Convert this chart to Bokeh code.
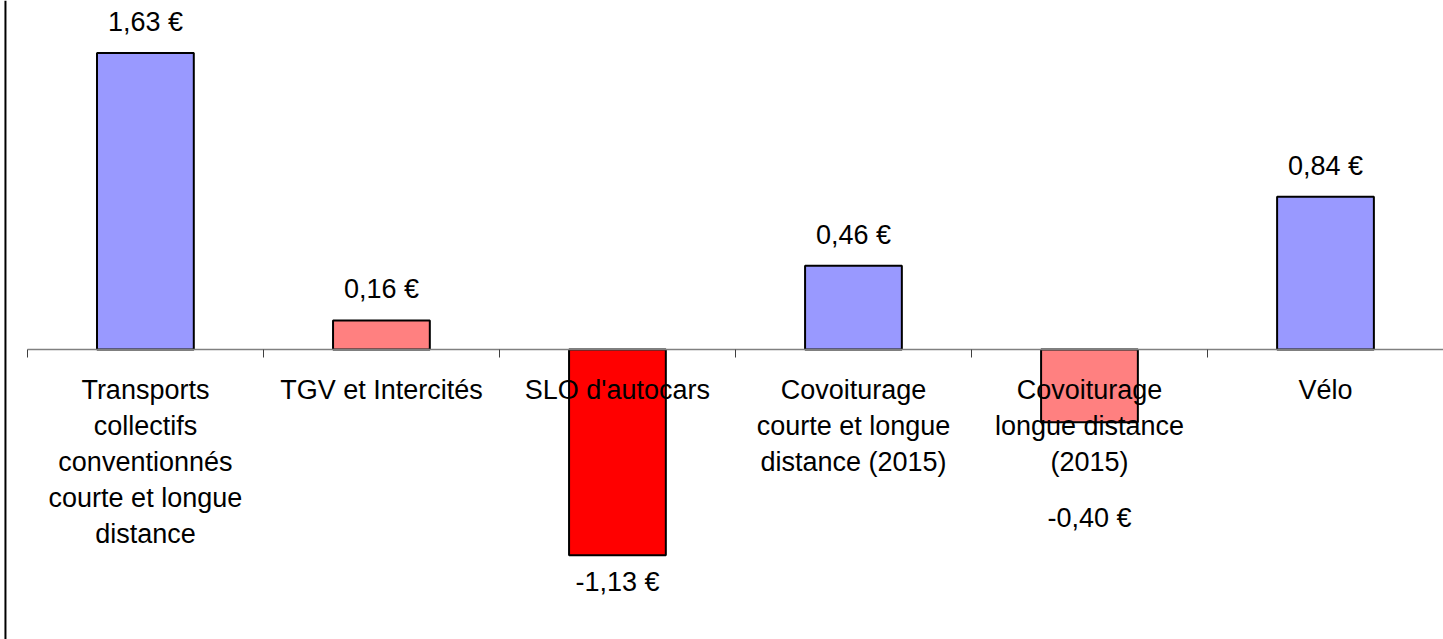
from bokeh.plotting import figure
from bokeh.models import LinearAxis, FixedTicker, ColumnDataSource, Range1d, Span
from bokeh.core.properties import value
from bokeh.embed import file_html
from bokeh.resources import INLINE

categories = [
    "Transports\ncollectifs\nconventionnés\ncourte et longue\ndistance",
    "TGV et Intercités",
    "SLO d'autocars",
    "Covoiturage\ncourte et longue\ndistance (2015)",
    "Covoiturage\nlongue distance\n(2015)",
    "Vélo",
]
values = [1.63, 0.16, -1.13, 0.46, -0.40, 0.84]
labels = ["1,63 €", "0,16 €", "-1,13 €", "0,46 €", "-0,40 €", "0,84 €"]
colors = ["#9999FF", "#FF8080", "#FF0000", "#9999FF", "#FF8080", "#9999FF"]

# layout: label offsets in screen pixels (negative = up)
label_offsets = [-31, -31, 27, -31, 96, -31]

FONT = "Liberation Sans"
n = len(values)
xs = [i + 0.5 for i in range(n)]

src = ColumnDataSource(dict(x=xs, top=values, color=colors, label=labels, off=label_offsets))

p = figure(width=1443, height=639, output_backend="svg", toolbar_location=None,
           x_axis_location=None, y_axis_location=None,
           x_range=Range1d(-0.114, 6.0), y_range=Range1d(-1.593, 1.918),
           min_border_left=0, min_border_right=0, min_border_top=0, min_border_bottom=0)
p.outline_line_color = None
p.xgrid.visible = False
p.ygrid.visible = False

p.vbar(x="x", top="top", bottom=0, width=0.41, fill_color="color", line_color="black",
       line_width=2, source=src)

p.text(x="x", y="top", text="label", y_offset="off", text_align="center", text_baseline="middle",
       text_font=value(FONT), text_font_size="27px", text_color="black", source=src)

# category axis: labels at centres, minor ticks at category boundaries
ax = LinearAxis(ticker=FixedTicker(ticks=xs, minor_ticks=list(range(n + 1))),
                fixed_location=0, bounds=(0, n))
ax.major_label_overrides = {x: c for x, c in zip(xs, categories)}
ax.axis_line_color = "#808080"
ax.axis_line_width = 1.5
ax.major_tick_line_color = None
ax.major_tick_out = 0
ax.major_tick_in = 0
ax.minor_tick_line_color = "#404040"
ax.minor_tick_line_width = 1
ax.minor_tick_out = 8
ax.minor_tick_in = 0
ax.major_label_standoff = 17
ax.major_label_text_font = FONT
ax.major_label_text_font_size = "27px"
ax.major_label_text_color = "black"
ax.major_label_text_line_height = 1.2
p.add_layout(ax, "below")

p.add_layout(Span(location=-0.093, dimension="height", line_color="black", line_width=2))

open("out.html", "w").write(file_html(p, INLINE))
